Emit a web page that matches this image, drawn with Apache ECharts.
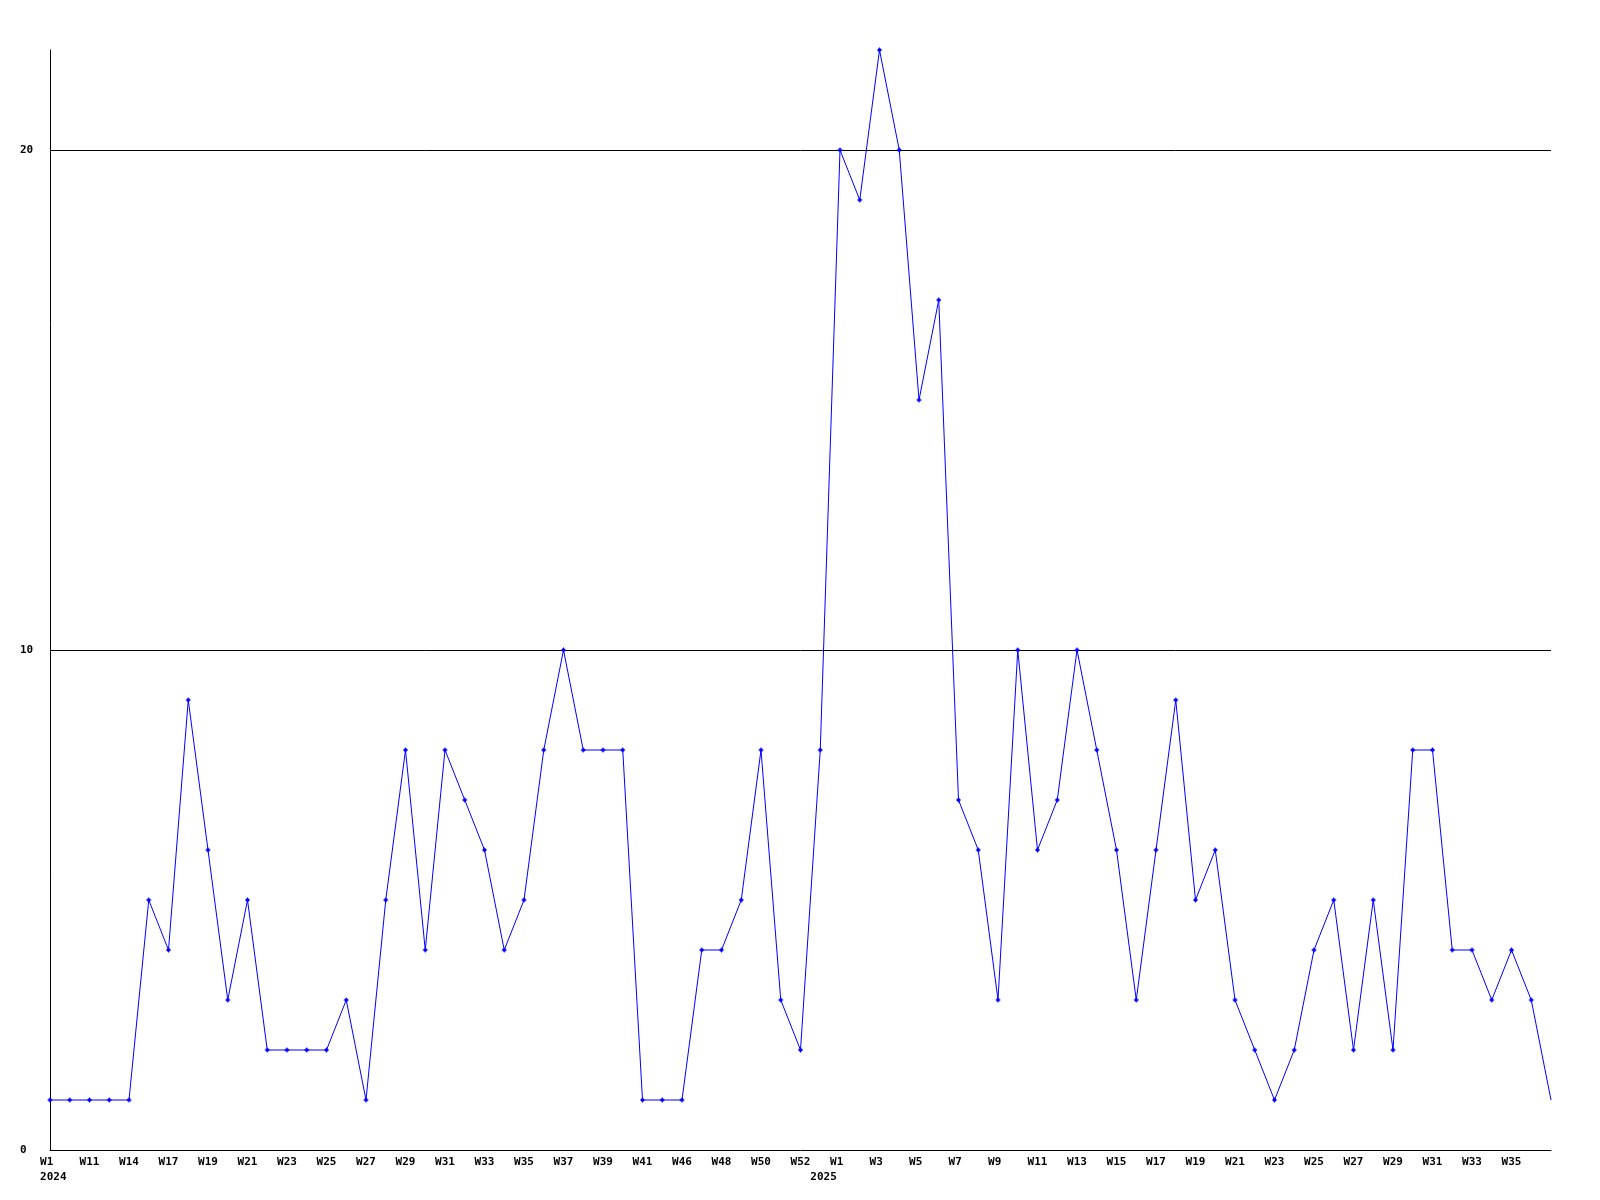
<!DOCTYPE html>
<html>
<head>
<meta charset="utf-8">
<style>
  html, body { margin: 0; padding: 0; background: #ffffff; }
  #chart { width: 1600px; height: 1200px; }
</style>
<script src="https://cdn.jsdelivr.net/npm/echarts@6/dist/echarts.min.js"></script>
</head>
<body>
<div id="chart"></div>
<script>
// Week categories (2024 then 2025)
const weeks = [
  'W1','W10','W11','W12','W14','W15','W17','W18','W19','W20',
  'W21','W22','W23','W24','W25','W26','W27','W28','W29','W30',
  'W31','W32','W33','W34','W35','W36','W37','W38','W39','W40',
  'W41','W42','W46','W47','W48','W49','W50','W51','W52','W53',
  'W1','W2','W3','W4','W5','W6','W7','W8','W9','W10',
  'W11','W12','W13','W14','W15','W16','W17','W18','W19','W20',
  'W21','W22','W23','W24','W25','W26','W27','W28','W29','W30',
  'W31','W32','W33','W34','W35','W36','W37'
];
// Year labels shown under the week labels (blank where none)
const yearLabels = weeks.map(() => '');
yearLabels[0] = '2024';
yearLabels[39] = '2025';

// Weekly counts
const counts = [
  1, 1, 1, 1, 1, 5, 4, 9, 6, 3,
  5, 2, 2, 2, 2, 3, 1, 5, 8, 4,
  8, 7, 6, 4, 5, 8, 10, 8, 8, 8,
  1, 1, 1, 4, 4, 5, 8, 3, 2, 8,
  20, 19, 22, 20, 15, 17, 7, 6, 3, 10,
  6, 7, 10, 8, 6, 3, 6, 9, 5, 6,
  3, 2, 1, 2, 4, 5, 2, 5, 2, 8,
  8, 4, 4, 3, 4, 3, 1
];

const yTicks = { min: 0, max: 22, interval: 10 };

const font = { fontFamily: 'DejaVu Sans Mono', fontWeight: 'bold', fontSize: 11, color: '#000000' };

const seriesData = counts.map((v, i) => i === counts.length - 1 ? { value: v, symbol: 'none' } : v);

const chart = echarts.init(document.getElementById('chart'), null, { renderer: 'canvas' });
chart.setOption({
  animation: false,
  backgroundColor: '#ffffff',
  grid: { left: 50, right: 49, top: 50, bottom: 50, containLabel: false },
  xAxis: [
    {
      type: 'category',
      data: weeks,
      boundaryGap: false,
      axisLine: { show: true, lineStyle: { color: '#000000', width: 1 } },
      axisTick: { show: false },
      splitLine: { show: false },
      axisLabel: Object.assign({}, font, {
        margin: 5,
        lineHeight: 15,
        interval: (i) => i % 2 === 0 && i < weeks.length - 1,
        formatter: (v) => (v + '   ').slice(0, 3)
      })
    },
    {
      type: 'category',
      data: weeks,
      boundaryGap: false,
      position: 'bottom',
      axisLine: { show: false },
      axisTick: { show: false },
      splitLine: { show: false },
      axisLabel: Object.assign({}, font, {
        margin: 20,
        lineHeight: 15,
        interval: (i) => yearLabels[i] !== '',
        formatter: (v, i) => yearLabels[i] ? ' ' + yearLabels[i] : ''
      })
    }
  ],
  yAxis: {
    type: 'value',
    min: yTicks.min,
    max: yTicks.max,
    interval: yTicks.interval,
    axisLine: { show: true, lineStyle: { color: '#000000', width: 1 } },
    axisTick: { show: false },
    splitLine: { show: true, showMinLine: false, showMaxLine: false, lineStyle: { color: '#000000', width: 1 } },
    axisLabel: Object.assign({}, font, {
      align: 'left',
      margin: 30,
      showMaxLabel: false,
      formatter: (v) => (v % yTicks.interval === 0 ? String(v) : '')
    })
  },
  series: [{
    type: 'line',
    xAxisIndex: 0,
    data: seriesData,
    symbol: 'path://M2,0H3V1H4V2H5V3H4V4H3V5H2V4H1V3H0V2H1V1H2Z',
    symbolSize: 5,
    showAllSymbol: true,
    clip: false,
    lineStyle: { color: '#0000ff', width: 1 },
    itemStyle: { color: '#0000ff' },
    emphasis: { disabled: true }
  }]
});
</script>
</body>
</html>
